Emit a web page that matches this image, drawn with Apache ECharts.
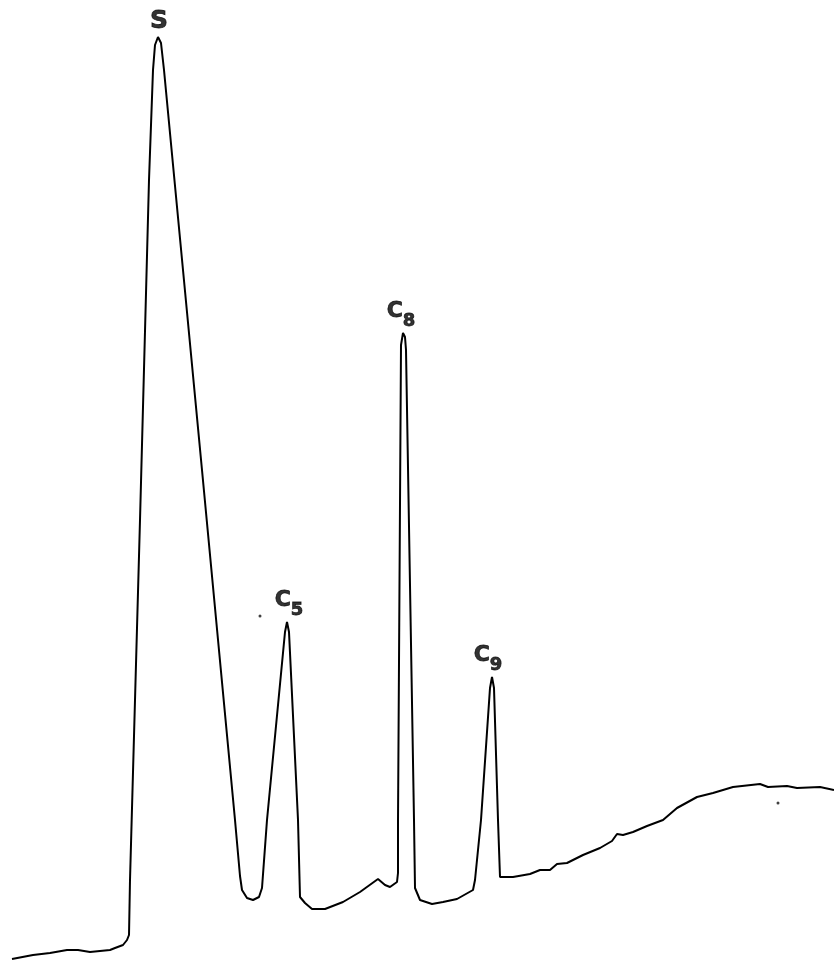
<!DOCTYPE html>
<html>
<head>
<meta charset="utf-8">
<script src="https://cdn.jsdelivr.net/npm/echarts@6/dist/echarts.min.js"></script>
<style>
  html, body { margin: 0; padding: 0; background: #fff; }
  #chart { width: 834px; height: 960px; }
</style>
</head>
<body>
<div id="chart"></div>
<script>
const leadIn = [[12, 959], [33, 955], [50, 953], [67, 950], [78, 950], [90, 952], [110, 950], [115, 948], [123, 945], [127, 940], [129, 935]];
const peakS = [[130, 880], [140, 520], [149, 180], [153, 70], [155, 45], [158, 37], [161, 43], [164, 70], [202, 470], [235, 820], [240, 876]];
const valleySC5 = [[242, 890], [247, 898], [253, 900], [259, 897], [262, 888]];
const peakC5 = [[267, 820], [285, 632], [287, 622], [289, 632], [298, 820]];
const valleyC5C8 = [[300, 897], [305, 903], [312, 909], [325, 909], [343, 902], [360, 892], [378, 879], [385, 885], [390, 887], [397, 882], [398, 873]];
const peakC8 = [[398, 820], [401, 345], [403, 333], [405, 337], [406, 350], [414, 820], [415, 888]];
const valleyC8C9 = [[420, 900], [432, 904], [443, 902], [457, 899], [473, 890], [475, 880]];
const peakC9 = [[481, 820], [490, 688], [492, 677], [494, 688], [498, 820], [500, 877]];
const tail = [[513, 877], [530, 874], [540, 870], [550, 870], [557, 864], [567, 863], [583, 855], [600, 848], [612, 841], [617, 834], [623, 835], [633, 832], [647, 826], [663, 820], [677, 808], [697, 797], [713, 793], [733, 787], [760, 784], [768, 787], [787, 786], [797, 788], [820, 787], [834, 790]];

const peakNames = ["S", "C", "C", "C"];
const peakSubs = ["", "5", "8", "9"];
const peakTops = [[158, 37], [287, 622], [403, 333], [492, 677]];
const specks = [[260, 616], [778, 803]];

const trace = [].concat(leadIn, peakS, valleySC5, peakC5, valleyC5C8, peakC8, valleyC8C9, peakC9, tail);

// small sideways nudges so the labels sit where the pen put them
const labelNudge = [1, 2, -2, -4];

const labelData = peakTops.map((p, i) => ({
  value: p,
  label: {
    offset: [labelNudge[i], 0],
    formatter: peakSubs[i] ? `{c|${peakNames[i]}}{s|${peakSubs[i]}}` : `{b|${peakNames[i]}}`,
  },
}));

const ink = { color: "#000", fontFamily: "DejaVu Sans", fontWeight: "bold", textBorderColor: "#000", textBorderWidth: 0.8 };

const chart = echarts.init(document.getElementById("chart"));
chart.setOption({
  backgroundColor: "#fff",
  animation: false,
  grid: { left: 0, right: 0, top: 0, bottom: 0 },
  xAxis: { type: "value", min: 0, max: 834, show: false },
  yAxis: { type: "value", min: 0, max: 960, inverse: true, show: false },
  series: [
    {
      type: "line",
      data: trace,
      symbol: "none",
      lineStyle: { color: "#000", width: 2 },
      z: 2,
    },
    {
      type: "scatter",
      data: labelData,
      symbolSize: 0,
      label: {
        show: true,
        position: "top",
        distance: 3,
        ...ink,
        rich: {
          b: { ...ink, fontSize: 25, lineHeight: 26 },
          c: { ...ink, fontSize: 22, lineHeight: 30, verticalAlign: "top" },
          s: { ...ink, fontSize: 18, lineHeight: 30, verticalAlign: "bottom" },
        },
      },
      z: 3,
    },
    {
      type: "scatter",
      data: specks,
      symbolSize: 3,
      itemStyle: { color: "#111" },
      silent: true,
    },
  ],
});
</script>
</body>
</html>
